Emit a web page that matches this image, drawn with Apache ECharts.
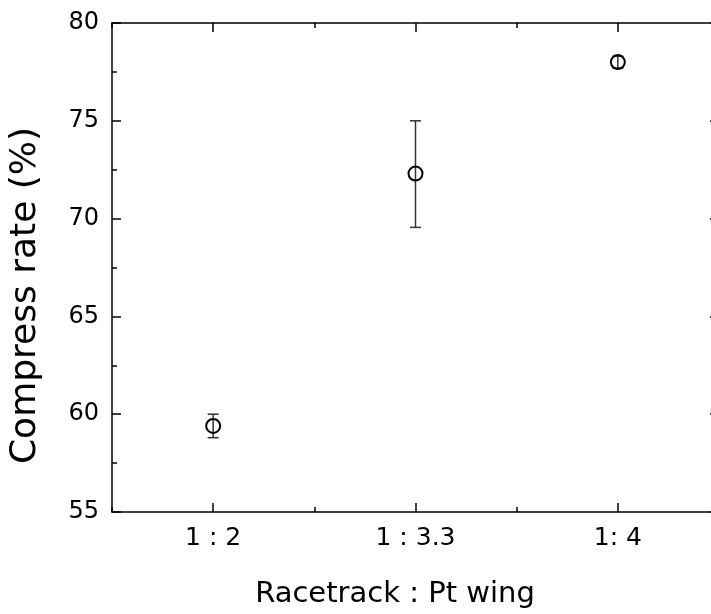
<!DOCTYPE html>
<html>
<head>
<meta charset="utf-8">
<script src="https://cdn.jsdelivr.net/npm/echarts@6/dist/echarts.min.js"></script>
<style>
html,body{margin:0;padding:0;background:#fff;overflow:hidden;}
#wrap{position:relative;width:711px;height:614px;overflow:hidden;}
#chart{position:absolute;left:0;top:0;width:720px;height:614px;}
</style>
</head>
<body>
<div id="wrap"><div id="chart"></div></div>
<script>
// ---- data ----
var categories = ['1 : 2', '1 : 3.3', '1: 4'];
var meanValues = [59.4, 72.3, 78.0];
var errLow = [58.8, 69.55, 77.7];
var errHigh = [60.0, 75.0, 78.3];
var yTicks = [55, 60, 65, 70, 75, 80];

var FONT = 'DejaVu Sans';
var chart = echarts.init(document.getElementById('chart'), null, {renderer: 'canvas'});

var scatterData = meanValues.map(function (v, i) { return [i, v]; });
var errData = errLow.map(function (lo, i) { return [i, lo, errHigh[i]]; });

function majorX(pos, withLabel) {
  return {
    type: 'category', data: categories, position: pos, boundaryGap: true,
    axisLine: {show: true, lineStyle: {color: '#000', width: 1.5}},
    axisTick: {show: true, alignWithLabel: true, inside: true, length: 9, interval: 0, lineStyle: {color: '#000', width: 1.5}},
    axisLabel: {show: !!withLabel, interval: 0, margin: 14, color: '#000', fontFamily: FONT, fontSize: 25},
    splitLine: {show: false}
  };
}
function minorX(pos) {
  return {
    type: 'category', data: categories, position: pos, boundaryGap: true,
    axisLine: {show: false},
    axisTick: {show: true, alignWithLabel: false, inside: true, length: 5, interval: 0, lineStyle: {color: '#000', width: 1.5}},
    axisLabel: {show: false},
    splitLine: {show: false}
  };
}
function yAx(pos, withLabel) {
  return {
    type: 'value', position: pos, min: yTicks[0], max: yTicks[yTicks.length - 1], interval: 5,
    axisLine: {show: true, lineStyle: {color: '#000', width: 1.5}},
    axisTick: {show: true, inside: true, length: 9, lineStyle: {color: '#000', width: 1.5}},
    minorTick: {show: true, splitNumber: 2, length: 5, lineStyle: {color: '#000', width: 1.5}},
    axisLabel: {show: withLabel, margin: 13, color: '#000', fontFamily: FONT, fontSize: 24},
    splitLine: {show: false}, minorSplitLine: {show: false}
  };
}

var xBottom = majorX('bottom', true);
xBottom.name = 'Racetrack : Pt wing';
xBottom.nameLocation = 'middle';
xBottom.nameGap = 68;
xBottom.nameTextStyle = {color: '#000', fontFamily: FONT, fontSize: 29, padding: [0, 41, 0, 0]};

var yLeft = yAx('left', true);
yLeft.name = 'Compress rate (%)';
yLeft.nameLocation = 'middle';
yLeft.nameRotate = 90;
yLeft.nameGap = 68;
yLeft.nameTextStyle = {color: '#000', fontFamily: FONT, fontSize: 36, padding: [0, 56, 0, 0]};

var option = {
  backgroundColor: '#fff',
  animation: false,
  grid: {left: 111, top: 23, right: 1, bottom: 99, containLabel: false},
  xAxis: [xBottom, minorX('bottom'), majorX('top', false), minorX('top')],
  yAxis: [yLeft, yAx('right', false)],
  series: [
    {
      type: 'custom', xAxisIndex: 0, yAxisIndex: 0, data: errData, z: 2,
      renderItem: function (params, api) {
        var x = api.value(0);
        var lo = api.coord([x, api.value(1)]);
        var hi = api.coord([x, api.value(2)]);
        var hw = 5.5;
        var st = {stroke: '#333', lineWidth: 1.5};
        return {
          type: 'group',
          children: [
            {type: 'line', shape: {x1: lo[0], y1: lo[1], x2: hi[0], y2: hi[1]}, style: st},
            {type: 'line', shape: {x1: lo[0] - hw, y1: lo[1], x2: lo[0] + hw, y2: lo[1]}, style: st},
            {type: 'line', shape: {x1: hi[0] - hw, y1: hi[1], x2: hi[0] + hw, y2: hi[1]}, style: st}
          ]
        };
      }
    },
    {
      type: 'scatter', xAxisIndex: 0, yAxisIndex: 0, data: scatterData, z: 3,
      symbol: 'circle', symbolSize: 14,
      itemStyle: {color: 'rgba(0,0,0,0)', borderColor: '#000', borderWidth: 2, opacity: 1}
    }
  ]
};
chart.setOption(option);
</script>
</body>
</html>
